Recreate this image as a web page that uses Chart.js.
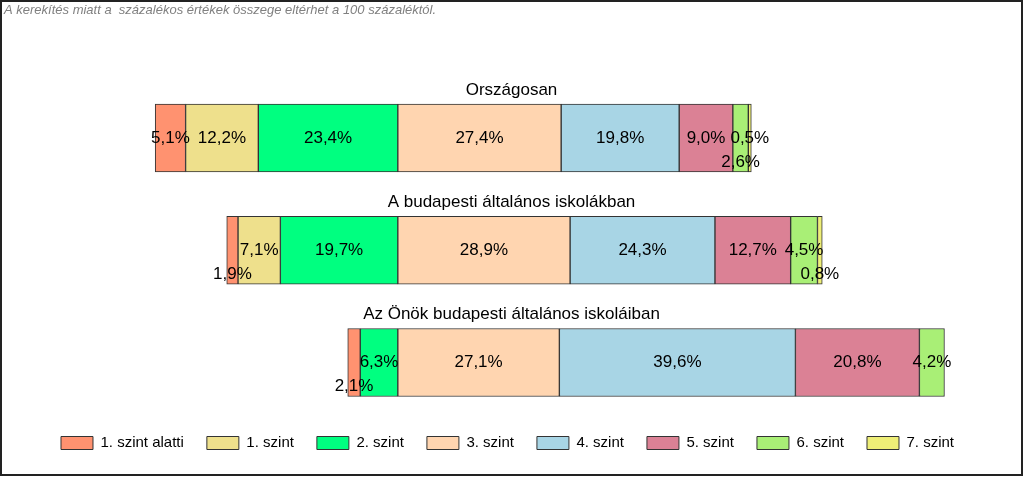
<!DOCTYPE html>
<html>
<head>
<meta charset="utf-8">
<script src="https://cdn.jsdelivr.net/npm/chart.js@4"></script>
<style>
  body { margin: 0; background: #fff; }
  #box { position: absolute; left: 0; top: 0; width: 1019px; height: 472px; border: 2px solid #222; }
</style>
</head>
<body>
<div id="box"><canvas id="myChart" width="1019" height="472"></canvas></div>
<script>
const note = 'A kerekítés miatt a  százalékos értékek összege eltérhet a 100 százaléktól.';
const groups = ['Országosan', 'A budapesti általános iskolákban', 'Az Önök budapesti általános iskoláiban'];
const levels = ['1. szint alatti', '1. szint', '2. szint', '3. szint', '4. szint', '5. szint', '6. szint', '7. szint'];

// percentages per level, one value per group
const szintAlatti = [5.1, 1.9, 2.1];
const szint1 = [12.2, 7.1, null];
const szint2 = [23.4, 19.7, 6.3];
const szint3 = [27.4, 28.9, 27.1];
const szint4 = [19.8, 24.3, 39.6];
const szint5 = [9.0, 12.7, 20.8];
const szint6 = [2.6, 4.5, 4.2];
const szint7 = [0.5, 0.8, null];

const values = [szintAlatti, szint1, szint2, szint3, szint4, szint5, szint6, szint7];
const colors = ['#FF9270', '#EEE08C', '#00FF80', '#FFD5B0', '#A8D5E5', '#DB8195', '#A9EF76', '#EEEE77'];
// levels below 3 go to the left of the zero line, 2. szint nearest to it
const negative = [true, true, true, false, false, false, false, false];
const stackOrder = [2, 1, 0, 3, 4, 5, 6, 7];

const fmt = v => v.toFixed(1).replace('.', ',') + '%';

const datasets = levels.map((name, j) => ({
  label: name,
  data: values[j].map(v => v == null ? null : (negative[j] ? -v : v)),
  backgroundColor: colors[j],
  borderColor: '#333',
  borderWidth: 1,
  borderSkipped: false,
  barThickness: 68,
  order: stackOrder[j],
  clip: false
}));

const labelPlugin = {
  id: 'labels',
  afterDatasetsDraw(chart) {
    const ctx = chart.ctx;
    ctx.save();
    ctx.fillStyle = '#000';
    ctx.textAlign = 'center';
    ctx.textBaseline = 'middle';
    ctx.font = '17px "Liberation Sans", Arial, sans-serif';
    groups.forEach((g, i) => {
      let prevLow = false;
      values.forEach((arr, j) => {
        const v = arr[i];
        if (v == null) return;
        const el = chart.getDatasetMeta(j).data[i];
        const low = v < 3 && !prevLow;
        prevLow = low;
        ctx.fillText(fmt(v), (el.x + el.base) / 2, el.y + (low ? 24 : 0));
      });
      const y = chart.scales.y.getPixelForValue(i);
      ctx.fillText(g, chart.width / 2, y - 48);
    });
    ctx.font = 'italic 13px "Liberation Sans", Arial, sans-serif';
    ctx.fillStyle = '#808080';
    ctx.textAlign = 'left';
    ctx.fillText(note, 2, 8);
    ctx.restore();
  }
};

const config = {
  type: 'bar',
  data: { labels: groups, datasets: datasets },
  options: {
    indexAxis: 'y',
    responsive: false,
    animation: false,
    layout: { padding: { top: 136, left: 0, right: 8, bottom: 13.5 } },
    scales: {
      x: {
        stacked: true, min: -66.4, max: 103.2,
        ticks: { display: false }, grid: { display: false }, border: { display: false },
        afterFit(s) { s.height = 50; }
      },
      y: { stacked: true, display: false, offset: false }
    },
    plugins: {
      tooltip: { enabled: false },
      legend: {
        position: 'bottom',
        labels: {
          boxWidth: 32, boxHeight: 13, padding: 23, color: '#000',
          font: { size: 15, family: '"Liberation Sans", Arial, sans-serif' },
          sort: (a, b) => a.datasetIndex - b.datasetIndex
        }
      }
    }
  },
  plugins: [labelPlugin]
};

const myChart = new Chart(document.getElementById('myChart'), config);
</script>
</body>
</html>
